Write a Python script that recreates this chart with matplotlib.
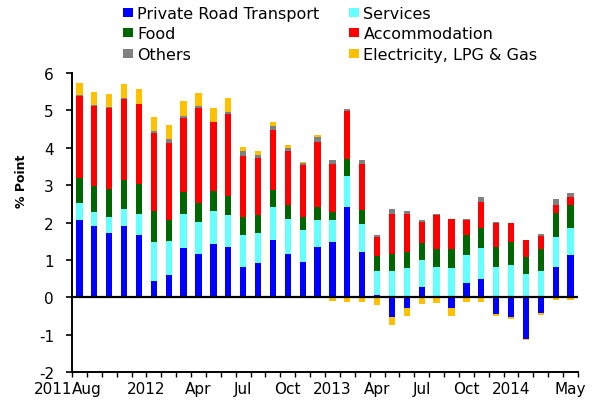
import matplotlib
matplotlib.use("Agg")
import matplotlib.pyplot as plt
import numpy as np
from matplotlib.patches import Patch
from matplotlib.transforms import blended_transform_factory

plt.rcParams['font.family'] = ['DejaVu Sans']
plt.rcParams['axes.unicode_minus'] = False

# Monthly categories Aug 2011 .. May 2014
months = [f"{y}-{m:02d}" for y in (2011, 2012, 2013, 2014) for m in range(1, 13)]
months = months[months.index("2011-08"):months.index("2014-05") + 1]

series_names = ["Private Road Transport", "Services", "Food",
                "Accommodation", "Others", "Electricity, LPG & Gas"]

private_road = [2.06, 1.90, 1.72, 1.90, 1.66, 0.44, 0.59, 1.33, 1.15, 1.43, 1.34, 0.82,
                0.91, 1.54, 1.17, 0.95, 1.34, 1.48, 2.41, 1.22, 0.07, -0.54, -0.30, 0.28,
                0.00, -0.30, 0.39, 0.50, -0.44, -0.54, -1.11, -0.42, 0.80, 1.13]
services = [0.46, 0.39, 0.42, 0.47, 0.58, 1.05, 0.92, 0.91, 0.86, 0.87, 0.87, 0.85,
            0.81, 0.88, 0.92, 0.85, 0.74, 0.58, 0.83, 0.75, 0.64, 0.71, 0.79, 0.73,
            0.81, 0.79, 0.74, 0.81, 0.81, 0.86, 0.61, 0.70, 0.80, 0.72]
food = [0.66, 0.68, 0.76, 0.77, 0.80, 0.82, 0.56, 0.58, 0.52, 0.54, 0.49, 0.49,
        0.49, 0.44, 0.39, 0.35, 0.33, 0.22, 0.47, 0.37, 0.40, 0.44, 0.43, 0.45,
        0.49, 0.49, 0.53, 0.53, 0.54, 0.62, 0.47, 0.59, 0.65, 0.63]
accommodation = [2.21, 2.14, 2.17, 2.17, 2.13, 2.09, 2.06, 1.98, 2.53, 1.85, 2.21, 1.62,
                 1.52, 1.62, 1.42, 1.39, 1.75, 1.29, 1.26, 1.23, 0.51, 1.08, 1.01, 0.56,
                 0.91, 0.82, 0.40, 0.72, 0.63, 0.51, 0.44, 0.35, 0.22, 0.20]
others = [0.03, 0.04, 0.01, 0.02, 0.01, 0.05, 0.10, 0.05, 0.05, 0.01, 0.05, 0.13,
          0.08, 0.11, 0.09, 0.04, 0.14, 0.11, 0.06, 0.11, 0.04, 0.12, 0.08, 0.04,
          0.03, 0.00, 0.04, 0.12, 0.04, 0.00, 0.00, 0.04, 0.16, 0.11]
electricity = [0.32, 0.33, 0.37, 0.37, 0.39, 0.37, 0.38, 0.41, 0.36, 0.37, 0.36, 0.10,
               0.10, 0.11, 0.08, 0.05, 0.04, -0.11, -0.13, -0.13, -0.20, -0.20, -0.19, -0.19,
               -0.16, -0.19, -0.12, -0.12, -0.07, -0.03, -0.04, -0.06, -0.08, -0.08]

colors = ["#0000FF", "#66FFFF", "#006600", "#FF0000", "#808080", "#FFC000"]

tick_labels = ["2011", "Aug", "2012", "Apr", "Jul", "Oct", "2013", "Apr", "Jul", "Oct", "2014", "May"]
tick_pos = [-0.5, -0.5, 4.5, 8, 11, 14, 17, 20, 23, 26, 29, 33]
tick_ha = ["right", "left"] + ["center"] * 10

W, H = 601, 406
fig = plt.figure(figsize=(W / 100, H / 100), dpi=100)
ax = fig.add_axes([72 / W, 1 - 373 / H, (578 - 72) / W, (373 - 74) / H])

x = np.arange(len(months))
data = [private_road, services, food, accommodation, others, electricity]
pos_base = np.zeros(len(months))
neg_base = np.zeros(len(months))
for vals, c in zip(data, colors):
    v = np.array(vals, dtype=float)
    bottom = np.where(v >= 0, pos_base, neg_base)
    ax.bar(x, v, bottom=bottom, width=0.42, color=c, linewidth=0, zorder=2)
    pos_base = pos_base + np.where(v >= 0, v, 0)
    neg_base = neg_base + np.where(v < 0, v, 0)

ax.axhline(0, color="black", lw=1.6, zorder=3)

ax.set_xlim(-0.5, len(months) - 0.5)
ax.set_ylim(-2, 6)
ax.set_yticks(range(-2, 7))
for s in ["top", "right"]:
    ax.spines[s].set_visible(False)
for s in ["left", "bottom"]:
    ax.spines[s].set_linewidth(1.4)

ax.tick_params(axis="y", direction="out", length=4, width=1.2, labelsize=11, pad=9)
ax.set_xticks(np.arange(-0.5, len(months), 1.0))
ax.tick_params(axis="x", direction="out", length=3.5, width=1.0, labelbottom=False)

trans = blended_transform_factory(ax.transData, ax.transAxes)
for lab, p, ha in zip(tick_labels, tick_pos, tick_ha):
    ax.text(p, -0.054, lab, transform=trans, ha=ha, va="center", fontsize=11)

ax.set_ylabel("% Point", fontsize=9, fontweight="bold")
ax.yaxis.set_label_coords(-0.087, 0.64)

order = [0, 2, 4, 1, 3, 5]
handles = [Patch(facecolor=colors[i], edgecolor="none") for i in order]
labels = [series_names[i] for i in order]
fig.legend(handles, labels, ncol=2, loc="upper left",
           bbox_to_anchor=(123 / W, 1 - 7 / H), frameon=False,
           fontsize=11.5, borderpad=0, borderaxespad=0,
           handlelength=0.62, handleheight=0.5, handletextpad=0.25,
           labelspacing=0.34, columnspacing=1.9)

fig.savefig("out.png", dpi=100)
